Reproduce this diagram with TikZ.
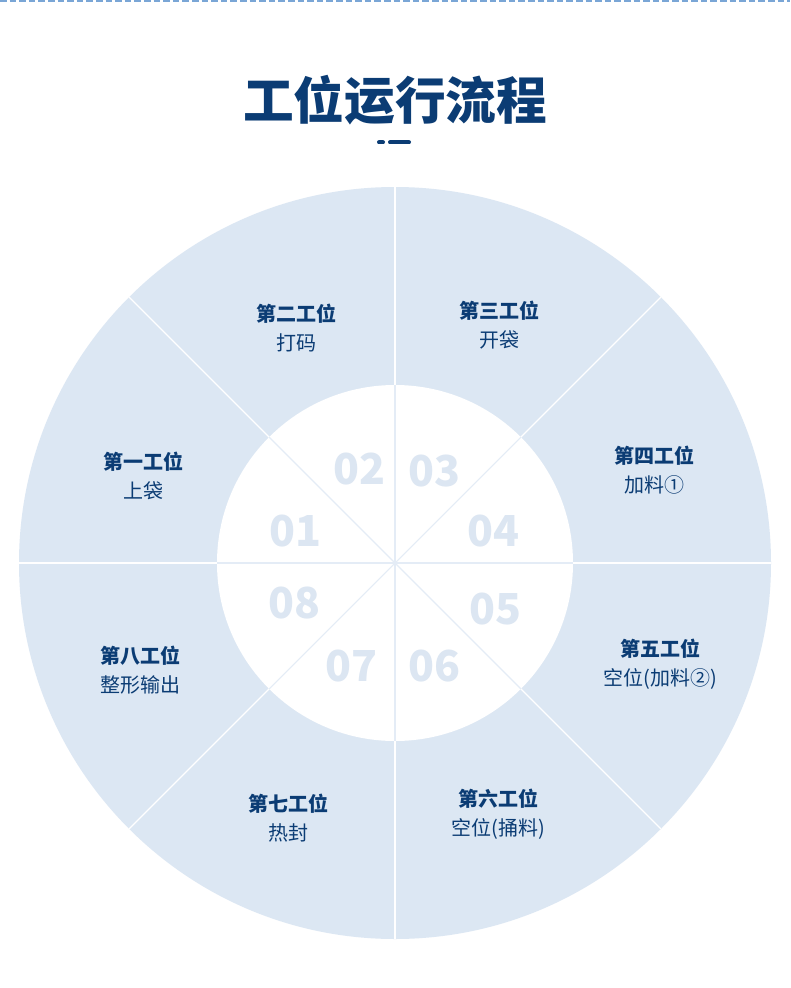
\documentclass[tikz,border=0pt]{standalone}
\usepackage{fontspec}
\setmainfont{Noto Sans CJK SC}
\definecolor{ringblue}{HTML}{DCE7F3}
\definecolor{numblue}{HTML}{DCE6F2}
\definecolor{spokeblue}{HTML}{E4ECF6}
\definecolor{textblue}{HTML}{0B3C74}
\definecolor{topline}{HTML}{7AA6D6}
\tikzset{
  station/.style={align=center,text=textblue,font=\fontsize{15pt}{22pt}\selectfont},
  number/.style={text=numblue,font=\fontsize{32pt}{32pt}\selectfont\bfseries}
}
\begin{document}
\begin{tikzpicture}[x=0.75pt,y=-0.75pt]
\useasboundingbox (0,0) rectangle (790,988);
\fill[white] (0,0) rectangle (790,988);
\draw [topline,line width=1.5pt,dash pattern=on 5pt off 2.2pt] (0,1) -- (790,1);
% title
\node (title) [text=textblue,font=\fontsize{38pt}{38pt}\selectfont\bfseries] at (395,100) {工位运行流程};
\draw [textblue,line width=3pt,line cap=round] (379,142.5) -- (383,142.5);
\draw [textblue,line width=3pt,line cap=round] (390,142.5) -- (409,142.5);
% wheel
\coordinate (c) at (395,563);
\fill [ringblue] (c) circle [radius=282pt];
\foreach \a in {0,45,...,315}
  \draw [white,line width=1pt] (c) -- ++(\a:282pt);
\fill [white] (c) circle [radius=133.5pt];
\foreach \a in {0,45,...,315}
  \draw [spokeblue,line width=0.8pt] (c) -- ++(\a:133.5pt);
% numbers
\node (n01) [number] at (295,531) {01};
\node (n02) [number] at (359,469) {02};
\node (n03) [number] at (434,471) {03};
\node (n04) [number] at (493,531) {04};
\node (n05) [number] at (495,609) {05};
\node (n06) [number] at (434,666) {06};
\node (n07) [number] at (351,666) {07};
\node (n08) [number] at (294,603) {08};
% stations
\node (s1) [station] at (143,476) {\textbf{第一工位}\\上袋};
\node (s2) [station] at (296,328) {\textbf{第二工位}\\打码};
\node (s3) [station] at (499,325) {\textbf{第三工位}\\开袋};
\node (s4) [station] at (654,470) {\textbf{第四工位}\\加料①};
\node (s5) [station] at (660,664) {\textbf{第五工位}\\空位(加料②)};
\node (s6) [station] at (498,814) {\textbf{第六工位}\\空位(捅料)};
\node (s7) [station] at (288,818) {\textbf{第七工位}\\热封};
\node (s8) [station] at (140,670) {\textbf{第八工位}\\整形输出};
\end{tikzpicture}
\end{document}
